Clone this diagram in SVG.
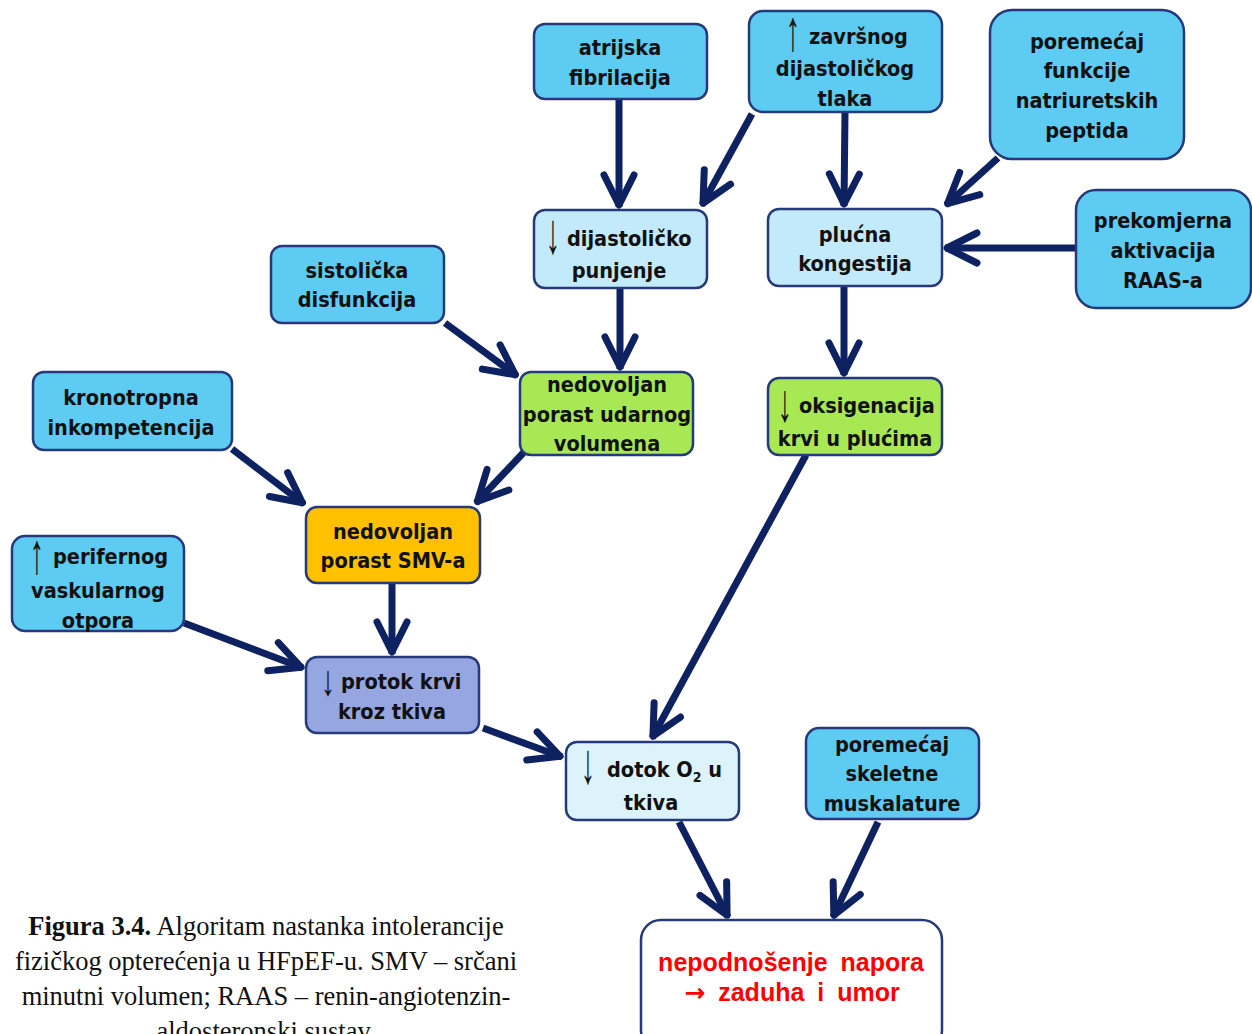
<svg xmlns="http://www.w3.org/2000/svg" width="1252" height="1034" viewBox="0 0 1252 1034">
<defs>
<style>
.n rect{stroke:#26397a;stroke-width:2.5}
.c1 rect{fill:#5ecbf2}
.c2 rect{fill:#c3eafa}
.c3 rect{fill:#a7e854}
.c4 rect{fill:#ffc000}
.c5 rect{fill:#96a6e0}
.c6 rect{fill:#ddf3fc}
.c7 rect{fill:#ffffff}
.n text{font-family:"DejaVu Sans Condensed","DejaVu Sans",sans-serif;font-weight:bold;font-size:21.5px;fill:#111;text-anchor:middle}
.n text.s{text-anchor:start}
.n text.arw{font-family:"Liberation Sans",Arial,sans-serif;font-weight:normal;font-size:36px}
.red text{font-family:"Liberation Sans",Arial,sans-serif;font-weight:bold;font-size:25px;fill:#ff0000;word-spacing:6px}
.rar{font-family:"DejaVu Sans",sans-serif;font-weight:bold;font-size:25px}
.cap{font-family:"Liberation Serif","Times New Roman",serif;font-size:26.5px;fill:#111;text-anchor:middle}
.conn line{stroke:#0e2160;stroke-width:7;marker-end:url(#ah)}
</style>
<marker id="ah" markerUnits="userSpaceOnUse" viewBox="-38 -22 44 44" refX="0" refY="0" markerWidth="44" markerHeight="44" orient="auto" overflow="visible">
<path d="M-32,-15 L-2,0 L-32,15" fill="none" stroke="#0e2160" stroke-width="7" stroke-linecap="round" stroke-linejoin="round"/>
</marker>
</defs>
<rect width="1252" height="1034" fill="#ffffff"/>

<g id="connectors" class="conn">
<line x1="619" y1="100" x2="619" y2="207"/>
<line x1="752" y1="114" x2="702" y2="205"/>
<line x1="845" y1="112" x2="844" y2="206"/>
<line x1="998" y1="158" x2="946" y2="205"/>
<line x1="1076" y1="248" x2="945" y2="248"/>
<line x1="620" y1="289" x2="620" y2="369"/>
<line x1="844" y1="287" x2="844" y2="375"/>
<line x1="445" y1="323" x2="517" y2="376"/>
<line x1="525" y1="451" x2="476" y2="503"/>
<line x1="232" y1="449" x2="304" y2="504"/>
<line x1="392" y1="584" x2="392" y2="654"/>
<line x1="184" y1="623" x2="303" y2="668"/>
<line x1="483" y1="728" x2="562" y2="757"/>
<line x1="806" y1="455" x2="652" y2="738"/>
<line x1="679" y1="822" x2="728" y2="917"/>
<line x1="878" y1="822" x2="833" y2="917"/>
</g>

<g id="atrijska" class="n c1">
<rect x="534" y="24" width="173" height="75" rx="11"/>
<text x="620" y="55">atrijska</text>
<text x="620" y="85">fibrilacija</text>
</g>
<g id="zavrsnog" class="n c1">
<rect x="749" y="11" width="193" height="101" rx="14"/>
<text class="arw" transform="translate(793,50) scale(0.8,1.6)">↑</text>
<text class="s" x="809" y="44">završnog</text>
<text x="845" y="76">dijastoličkog</text>
<text x="845" y="106">tlaka</text>
</g>
<g id="natriuretski" class="n c1">
<rect x="990" y="10" width="194" height="149" rx="22"/>
<text x="1087" y="49">poremećaj</text>
<text x="1087" y="78">funkcije</text>
<text x="1087" y="108">natriuretskih</text>
<text x="1087" y="138">peptida</text>
</g>
<g id="punjenje" class="n c2">
<rect x="534" y="210" width="173" height="78" rx="11"/>
<text class="arw" transform="translate(553,253) scale(0.8,1.6)">↓</text>
<text class="s" x="567" y="246">dijastoličko</text>
<text x="619" y="278">punjenje</text>
</g>
<g id="kongestija" class="n c2">
<rect x="768" y="209" width="174" height="77" rx="11"/>
<text x="855" y="242">plućna</text>
<text x="855" y="271">kongestija</text>
</g>
<g id="raas" class="n c1">
<rect x="1076" y="190" width="175" height="118" rx="20"/>
<text x="1163" y="228">prekomjerna</text>
<text x="1163" y="258">aktivacija</text>
<text x="1163" y="288">RAAS-a</text>
</g>
<g id="sistolicka" class="n c1">
<rect x="271" y="246" width="173" height="77" rx="11"/>
<text x="357" y="278">sistolička</text>
<text x="357" y="307">disfunkcija</text>
</g>
<g id="udarni" class="n c3">
<rect x="520" y="372" width="173" height="83" rx="11"/>
<text x="607" y="392">nedovoljan</text>
<text x="607" y="422">porast udarnog</text>
<text x="607" y="451">volumena</text>
</g>
<g id="oksigenacija" class="n c3">
<rect x="768" y="378" width="174" height="77" rx="11"/>
<text class="arw" transform="translate(785,421) scale(0.8,1.5)">↓</text>
<text class="s" x="799" y="413">oksigenacija</text>
<text x="855" y="446">krvi u plućima</text>
</g>
<g id="kronotropna" class="n c1">
<rect x="33" y="372" width="199" height="78" rx="11"/>
<text x="131" y="405">kronotropna</text>
<text x="131" y="435">inkompetencija</text>
</g>
<g id="smv" class="n c4">
<rect x="306" y="507" width="174" height="76" rx="11"/>
<text x="393" y="539">nedovoljan</text>
<text x="393" y="568">porast SMV-a</text>
</g>
<g id="periferni" class="n c1">
<rect x="12" y="536" width="172" height="95" rx="13"/>
<text class="arw" transform="translate(37,573) scale(0.8,1.6)">↑</text>
<text class="s" x="53" y="564">perifernog</text>
<text x="98" y="598">vaskularnog</text>
<text x="98" y="628">otpora</text>
</g>
<g id="protok" class="n c5">
<rect x="306" y="657" width="173" height="76" rx="11"/>
<text class="arw" transform="translate(328,695) scale(0.8,1.2)">↓</text>
<text class="s" x="341" y="689">protok krvi</text>
<text x="392" y="719">kroz tkiva</text>
</g>
<g id="dotok" class="n c6">
<rect x="566" y="742" width="173" height="78" rx="11"/>
<text class="arw" transform="translate(588,783) scale(0.8,1.6)">↓</text>
<text class="s" x="607" y="777">dotok O<tspan font-size="14" dy="5">2</tspan><tspan dy="-5"> u</tspan></text>
<text x="651" y="810">tkiva</text>
</g>
<g id="skeletne" class="n c1">
<rect x="806" y="728" width="173" height="91" rx="13"/>
<text x="892" y="752">poremećaj</text>
<text x="892" y="781">skeletne</text>
<text x="892" y="811">muskalature</text>
</g>
<g id="nepodnosenje" class="n c7 red">
<rect x="641" y="920" width="301" height="130" rx="20"/>
<text x="791" y="971">nepodnošenje napora</text>
<text x="792" y="1001"><tspan class="rar">→</tspan> zaduha i umor</text>
</g>

<g id="caption" class="cap">
<text x="266" y="935"><tspan font-weight="bold">Figura 3.4.</tspan> Algoritam nastanka intolerancije</text>
<text x="266" y="970">fizičkog opterećenja u HFpEF-u. SMV – srčani</text>
<text x="266" y="1005">minutni volumen; RAAS – renin-angiotenzin-</text>
<text x="266" y="1040">aldosteronski sustav.</text>
</g>
</svg>
